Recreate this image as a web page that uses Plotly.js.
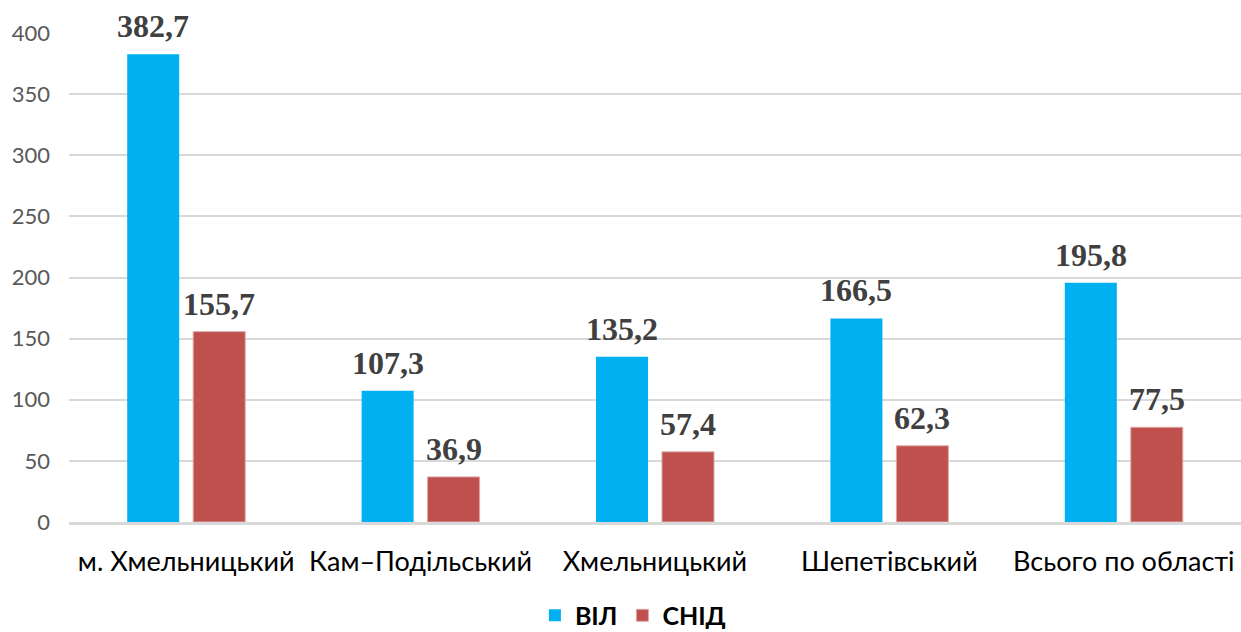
<!DOCTYPE html>
<html>
<head>
<meta charset="utf-8">
<script src="https://cdn.plot.ly/plotly-3.0.1.min.js"></script>
<style>
  html, body { margin: 0; padding: 0; background: #ffffff; }
  #chart { width: 1241px; height: 632px; }
</style>
</head>
<body>
<div id="chart"></div>
<script>
// Категорії (міста/райони) та два показники
const categories = ['м. Хмельницький', 'Кам–Подільський', 'Хмельницький', 'Шепетівський', 'Всього по області'];
const seriesNames = ['ВІЛ', 'СНІД'];
const vilValues = [382.7, 107.3, 135.2, 166.5, 195.8];
const snidValues = [155.7, 36.9, 57.4, 62.3, 77.5];
const yTicks = [0, 50, 100, 150, 200, 250, 300, 350, 400];

const W = 1241, H = 632;
const margin = { l: 69, r: 0, t: 33, b: 110 };
const bargap = 0.437;
const bargroupgap = 0.212;

const traces = [
  { type: 'bar', name: seriesNames[0], x: categories, y: vilValues,
    marker: { color: '#00b0f0' }, hoverinfo: 'x+y' },
  { type: 'bar', name: seriesNames[1], x: categories, y: snidValues,
    marker: { color: '#c0504d', line: { color: '#d9a9a8', width: 1 } }, hoverinfo: 'x+y' }
];

// Value labels above each bar, shifted sideways to the centre of its bar in the group
const catWidth = (W - margin.l - margin.r) / categories.length;
const slot = catWidth * (1 - bargap) / 2;
const fmt = v => v.toFixed(1).replace('.', ',');
const annotations = [];
[vilValues, snidValues].forEach((vals, si) => {
  vals.forEach((v, i) => {
    annotations.push({
      x: categories[i], y: v, xref: 'x', yref: 'y',
      xshift: (si === 0 ? -1 : 1) * slot / 2,
      yshift: 8,
      yanchor: 'bottom', xanchor: 'center',
      showarrow: false,
      text: '<b>' + fmt(v) + '</b>',
      font: { family: 'Liberation Serif, Times New Roman, serif', size: 32, color: '#404040' }
    });
  });
});

const layout = {
  width: W,
  height: H,
  paper_bgcolor: '#ffffff',
  plot_bgcolor: '#ffffff',
  margin: margin,
  barmode: 'group',
  bargap: bargap,
  bargroupgap: bargroupgap,
  font: { family: 'Lato, Open Sans, sans-serif', color: '#595959' },
  annotations: annotations,
  xaxis: {
    automargin: false,
    tickfont: { family: 'Lato, Open Sans, sans-serif', size: 27, color: '#000000' },
    showline: true,
    linecolor: '#d9d9d9',
    linewidth: 3,
    ticks: '',
    ticklabelstandoff: 14,
    showgrid: false,
    fixedrange: true
  },
  yaxis: {
    automargin: false,
    range: [0, 400],
    tickvals: yTicks,
    tickfont: { family: 'Lato, Open Sans, sans-serif', size: 22, color: '#595959' },
    gridcolor: '#d9d9d9',
    gridwidth: 2,
    zeroline: false,
    showline: false,
    ticks: '',
    ticklabelstandoff: 18,
    fixedrange: true
  },
  showlegend: true,
  legend: {
    orientation: 'h',
    xref: 'container',
    yref: 'container',
    x: 0.51,
    xanchor: 'center',
    y: 0.026,
    yanchor: 'middle',
    font: { family: 'Lato, Open Sans, sans-serif', size: 25, color: '#000000', weight: 'bold' },
    itemwidth: 30
  }
};

Plotly.newPlot('chart', traces, layout, { displayModeBar: false, staticPlot: true });
</script>
</body>
</html>
